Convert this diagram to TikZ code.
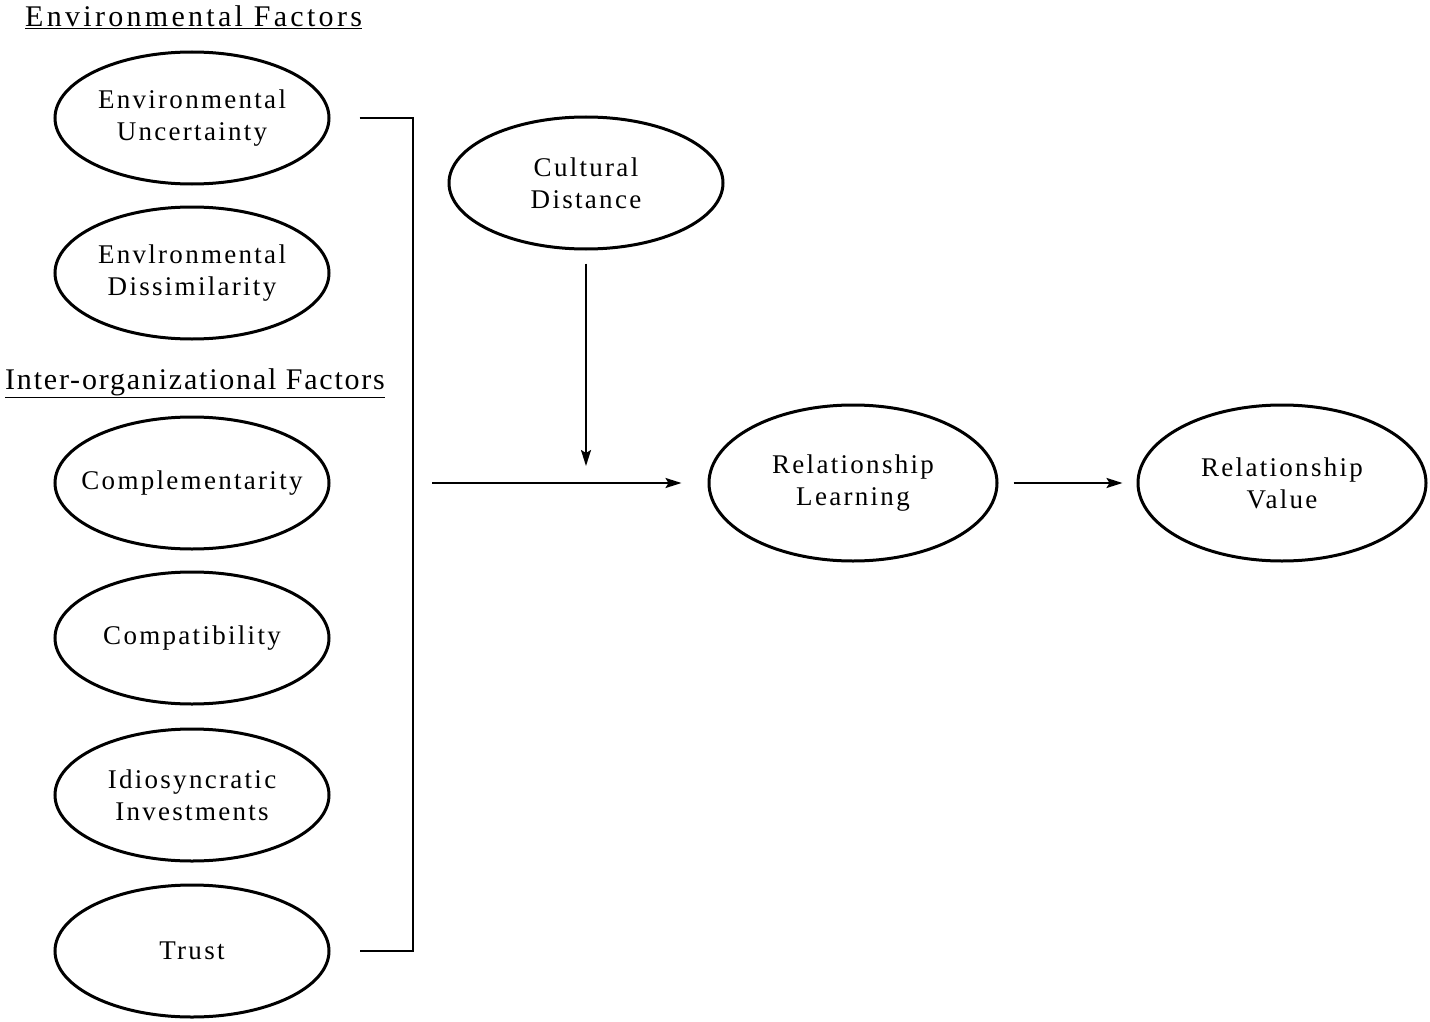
\documentclass[tikz,border=0pt]{standalone}
\usepackage{fontspec}
\setmainfont{Liberation Serif}
\newfontfamily\ellfont[LetterSpace=8.5]{Liberation Serif}
\newfontfamily\titfonta[LetterSpace=11]{Liberation Serif}
\newfontfamily\titfontb[LetterSpace=6]{Liberation Serif}
\usetikzlibrary{shapes.geometric,arrows.meta}
\begin{document}
\begin{tikzpicture}[x=1pt,y=-1pt,
  oval/.style={ellipse,draw,line width=3pt,inner ysep=0pt,inner xsep=-20pt,align=center,
    minimum width=274pt,minimum height=132pt,font=\ellfont\fontsize{27}{32}\selectfont},
  bigoval/.style={oval,minimum width=288pt,minimum height=156pt},
  heading/.style={inner sep=0pt,anchor=base west},
  conn/.style={line width=2pt},
  arr/.style={conn,-{Stealth[length=16pt,width=10pt,inset=3pt]}}]
\useasboundingbox (0,0) rectangle (1430,1022);
\node[heading,font=\titfonta\fontsize{30}{34}\selectfont] (h1) at (25,27) {\underline{Environmental Factors}};
\node[heading,font=\titfontb\fontsize{30}{34}\selectfont] (h2) at (5,389) {\underline{Inter-organizational Factors}};
\node[oval] (eu) at (192,118) {Environmental\\Uncertainty};
\node[oval] (ed) at (192,273) {Envlronmental\\Dissimilarity};
\node[oval] (co) at (192,483) {Complementarity};
\node[oval] (cp) at (192,638) {Compatibility};
\node[oval] (ii) at (192,795) {Idiosyncratic\\Investments};
\node[oval] (tr) at (192,951) {Trust};
\node[oval] (cd) at (586,183) {Cultural\\Distance};
\node[bigoval] (rl) at (853,483) {Relationship\\Learning};
\node[bigoval] (rv) at (1282,483) {Relationship\\Value};
\coordinate (bt) at ([xshift=29pt]eu.east);
\coordinate (bb) at ([xshift=29pt]tr.east);
\coordinate (bs) at (432,483);
\coordinate (mp) at (586,466);
\draw[conn] (bt) -- ++(53,0) |- (bb);
\draw[arr] (bs) -- ([xshift=-26pt]rl.west);
\draw[arr] ([yshift=-13pt]cd.south) -- (mp);
\draw[arr] ([xshift=15pt]rl.east) -- ([xshift=-14pt]rv.west);
\end{tikzpicture}
\end{document}
